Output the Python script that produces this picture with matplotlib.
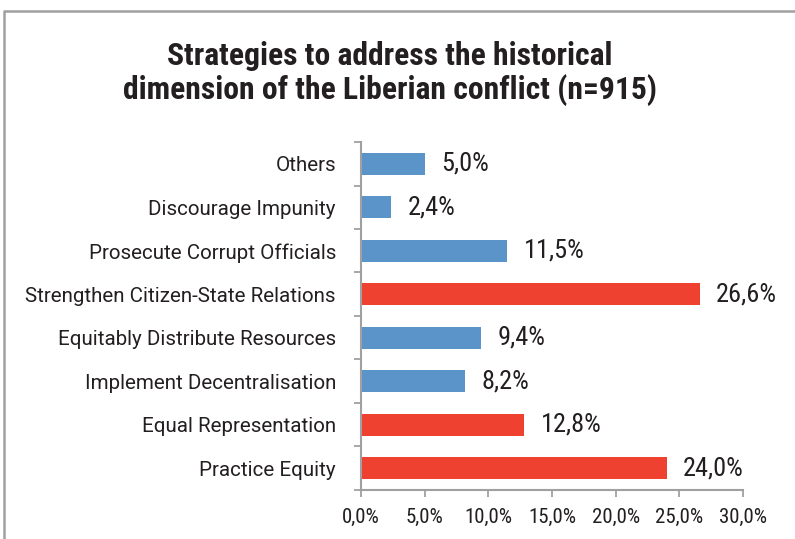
"""Horizontal bar chart of strategies for the historical dimension of the Liberian conflict."""

import matplotlib.pyplot as plt
from matplotlib.lines import Line2D

categories = [
    "Practice Equity",
    "Equal Representation",
    "Implement Decentralisation",
    "Equitably Distribute Resources",
    "Strengthen Citizen-State Relations",
    "Prosecute Corrupt Officials",
    "Discourage Impunity",
    "Others",
]
shares = [24.0, 12.8, 8.2, 9.4, 26.6, 11.5, 2.4, 5.0]
highlighted = [True, True, False, False, True, False, False, False]
xticks = [0, 5, 10, 15, 20, 25, 30]

BLUE = "#5b94c8"
RED = "#ef4130"
GREY = "#a0a0a0"
TEXT = "#231f20"

narrow = ["Roboto Condensed", "DejaVu Sans"]
plain = ["Roboto", "DejaVu Sans"]

fig = plt.figure(figsize=(7.95, 5.39), dpi=100)
ax = fig.add_axes([0.454, 0.091, 0.4805, 0.6455])

colors = [RED if h else BLUE for h in highlighted]
ypos = range(len(categories))
ax.barh(ypos, shares, height=0.5, color=colors)

for y, v in zip(ypos, shares):
    ax.text(v + 1.3, y, f"{v:.1f}%".replace(".", ","), va="center", ha="left",
            fontsize=19, family=narrow, color=TEXT)

ax.set_xlim(0, 30)
ax.set_ylim(-0.5, len(categories) - 0.5)
ax.set_xticks(xticks)
ax.set_xticklabels([f"{t:.1f}%".replace(".", ",") for t in xticks],
                   family=narrow, fontsize=15, color=TEXT)
ax.set_yticks(list(ypos))
ax.set_yticklabels(categories, family=plain, fontsize=14.8, color=TEXT)
ax.set_yticks([i - 0.5 for i in range(len(categories) + 1)], minor=True)
ax.tick_params(axis="y", which="major", length=0, pad=18)
ax.tick_params(axis="y", which="minor", length=5, color=GREY, width=1.3)
ax.tick_params(axis="x", length=5, color=GREY, width=1.3, pad=8)

for side in ("top", "right"):
    ax.spines[side].set_visible(False)
for side in ("left", "bottom"):
    ax.spines[side].set_color(GREY)
    ax.spines[side].set_linewidth(1.5)

fig.text(0.49, 0.863, "Strategies to address the historical\ndimension of the Liberian conflict (n=915)",
         ha="center", va="center", fontsize=22.8, fontweight="bold",
         family=narrow, color=TEXT, linespacing=1.13)

# outer frame, open towards the right and bottom edges
fig.add_artist(Line2D([0.0055, 0.0055, 1.0], [0.0, 0.98, 0.98],
                      transform=fig.transFigure, color=GREY, linewidth=1.8))

fig.savefig("out.png", dpi=100)
